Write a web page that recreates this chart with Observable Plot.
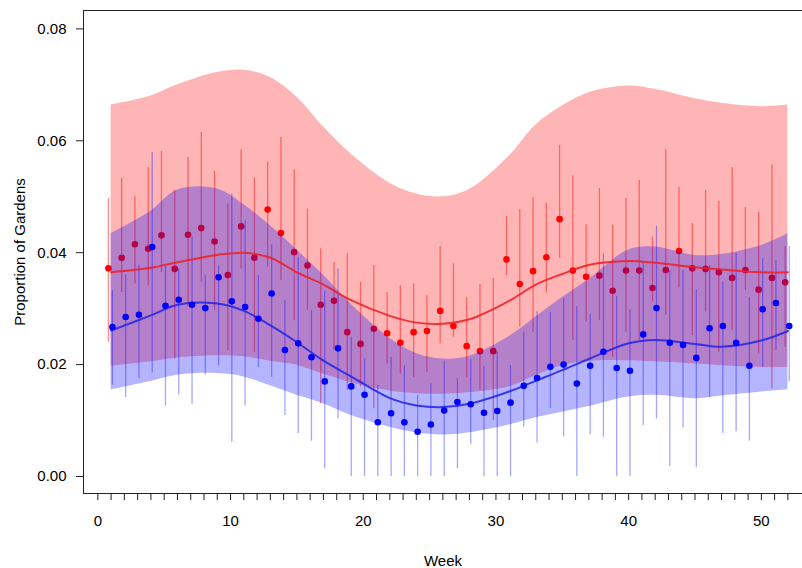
<!DOCTYPE html>
<html>
<head>
<meta charset="utf-8">
<script src="https://cdn.jsdelivr.net/npm/d3@7"></script>
<script src="https://cdn.jsdelivr.net/npm/@observablehq/plot@0.6"></script>
<style>
  html, body { margin: 0; padding: 0; background: white; }
  #chart { width: 802px; height: 568px; }
</style>
</head>
<body>
<div id="chart"></div>
<script>
// ---- Data ----
const weeks = d3.range(1, 53);

const redProp = [0.0372,0.0391,0.0415,0.0407,0.0431,0.0371,0.0432,0.0444,0.0420,0.0360,
  0.0447,0.0391,0.0477,0.0435,0.0401,0.0377,0.0307,0.0314,0.0258,0.0237,
  0.0264,0.0256,0.0239,0.0258,0.0260,0.0296,0.0269,0.0233,0.0224,0.0224,
  0.0388,0.0344,0.0367,0.0392,0.0460,0.0368,0.0357,0.0359,0.0332,0.0368,
  0.0368,0.0337,0.0369,0.0403,0.0372,0.0371,0.0365,0.0355,0.0369,0.0334,
  0.0355,0.0347];
const redHi = [0.0497,0.0533,0.0500,0.0552,0.0581,0.0511,0.0570,0.0615,0.0546,0.0487,
  0.0584,0.0534,0.0562,0.0606,0.0548,0.0478,0.0407,0.0383,0.0398,0.0347,
  0.0377,0.0329,0.0341,0.0344,0.0324,0.0411,0.0380,0.0320,0.0343,0.0354,
  0.0465,0.0477,0.0498,0.0489,0.0592,0.0537,0.0450,0.0515,0.0449,0.0497,
  0.0529,0.0428,0.0584,0.0517,0.0452,0.0511,0.0492,0.0552,0.0481,0.0472,
  0.0557,0.0411];
const redLo = [0.0240,0.0329,0.0344,0.0341,0.0365,0.0210,0.0303,0.0347,0.0297,0.0225,
  0.0371,0.0222,0.0374,0.0350,0.0279,0.0297,0.0130,0.0225,0.0154,0.0160,
  0.0121,0.0201,0.0183,0.0177,0.0186,0.0237,0.0249,0.0177,0.0154,0.0100,
  0.0359,0.0267,0.0258,0.0328,0.0390,0.0243,0.0276,0.0279,0.0213,0.0258,
  0.0243,0.0312,0.0288,0.0338,0.0252,0.0294,0.0222,0.0261,0.0332,0.0219,
  0.0157,0.0231];

const blueProp = [0.0267,0.0285,0.0289,0.0410,0.0305,0.0316,0.0307,0.0301,0.0356,0.0313,
  0.0303,0.0282,0.0327,0.0226,0.0238,0.0213,0.0170,0.0229,0.0161,0.0146,
  0.0097,0.0113,0.0097,0.0080,0.0093,0.0118,0.0133,0.0129,0.0114,0.0117,
  0.0132,0.0162,0.0176,0.0196,0.0200,0.0166,0.0198,0.0223,0.0194,0.0189,
  0.0254,0.0301,0.0239,0.0235,0.0212,0.0265,0.0269,0.0239,0.0198,0.0299,
  0.0310,0.0269];
const blueHi = [0.0332,0.0360,0.0377,0.0579,0.0380,0.0371,0.0428,0.0360,0.0376,0.0505,
  0.0457,0.0359,0.0414,0.0315,0.0392,0.0297,0.0331,0.0371,0.0249,0.0210,
  0.0163,0.0213,0.0198,0.0145,0.0166,0.0206,0.0175,0.0209,0.0197,0.0222,
  0.0198,0.0258,0.0295,0.0293,0.0318,0.0304,0.0290,0.0398,0.0322,0.0298,
  0.0383,0.0447,0.0368,0.0368,0.0334,0.0377,0.0347,0.0399,0.0320,0.0389,
  0.0386,0.0411];
const blueLo = [0.0163,0.0141,0.0175,0.0185,0.0126,0.0146,0.0129,0.0182,0.0198,0.0061,
  0.0126,0.0195,0.0177,0.0109,0.0077,0.0063,0.0014,0.0103,0.0000,0.0000,
  0.0000,0.0000,0.0000,0.0000,0.0000,0.0000,0.0014,0.0057,0.0000,0.0000,
  0.0000,0.0088,0.0060,0.0121,0.0071,0.0000,0.0075,0.0070,0.0000,0.0000,
  0.0091,0.0103,0.0018,0.0087,0.0016,0.0141,0.0077,0.0080,0.0063,0.0195,
  0.0225,0.0169];

// Smoothed fits and their bands (read at these weeks)
const fitWeeks = [1,4,6,9,11,13,15,17,19,22,24,26,28,31,33,35,37,40,42,45,47,50,52];
const redFit   = [0.0365,0.0373,0.0383,0.0396,0.0400,0.0391,0.0365,0.0343,0.0316,0.0287,0.0275,0.0273,0.0281,0.0314,0.0343,0.0362,0.0378,0.0385,0.0382,0.0374,0.0370,0.0365,0.0365];
const redBandHi= [0.0664,0.0680,0.0700,0.0722,0.0726,0.0713,0.0678,0.0625,0.0578,0.0524,0.0505,0.0500,0.0513,0.0573,0.0628,0.0662,0.0686,0.0698,0.0692,0.0675,0.0667,0.0661,0.0664];
const redBandLo= [0.0197,0.0205,0.0212,0.0216,0.0214,0.0206,0.0199,0.0183,0.0168,0.0153,0.0148,0.0147,0.0150,0.0160,0.0180,0.0198,0.0206,0.0207,0.0205,0.0201,0.0198,0.0195,0.0195];
const blueFit  = [0.0261,0.0288,0.0307,0.0309,0.0296,0.0270,0.0240,0.0207,0.0180,0.0140,0.0127,0.0124,0.0130,0.0152,0.0171,0.0190,0.0210,0.0238,0.0244,0.0237,0.0232,0.0243,0.0260];
const blueBandHi=[0.0434,0.0474,0.0512,0.0514,0.0486,0.0448,0.0405,0.0360,0.0310,0.0247,0.0220,0.0210,0.0215,0.0250,0.0285,0.0320,0.0352,0.0405,0.0410,0.0395,0.0397,0.0413,0.0434];
const blueBandLo=[0.0155,0.0170,0.0181,0.0184,0.0178,0.0162,0.0145,0.0130,0.0110,0.0088,0.0078,0.0074,0.0078,0.0092,0.0105,0.0115,0.0125,0.0142,0.0145,0.0139,0.0144,0.0151,0.0155];

const yTicks = [0, 0.02, 0.04, 0.06, 0.08];
const xTicks = d3.range(0, 53);
const xLabelEvery = 10;

// ---- Build tables ----
const redRows = weeks.map((w, i) => ({week: w, p: redProp[i], lo: redLo[i], hi: redHi[i]}));
const blueRows = weeks.map((w, i) => ({week: w, p: blueProp[i], lo: blueLo[i], hi: blueHi[i]}));
const fitRows = fitWeeks.map((w, i) => ({
  week: w, redFit: redFit[i], redHi: redBandHi[i], redLo: redBandLo[i],
  blueFit: blueFit[i], blueHi: blueBandHi[i], blueLo: blueBandLo[i]
}));

const font = "'Liberation Sans', Arial, Helvetica, sans-serif";
const curve = "catmull-rom";

const chart = Plot.plot({
  width: 802,
  height: 568,
  marginLeft: 83,
  marginRight: 0,
  marginTop: 10,
  marginBottom: 75,
  style: {fontFamily: font, fontSize: "15px", background: "white", color: "black"},
  x: {domain: [-1.08, 53.1]},
  y: {domain: [-0.00304, 0.08329]},
  marks: [
    Plot.areaY(fitRows, {x: "week", y1: "redLo", y2: "redHi", fill: "#ff0000", fillOpacity: 0.29, curve}),
    Plot.ruleX(redRows, {x: "week", y1: "lo", y2: "hi", stroke: "#ff0000", strokeOpacity: 0.45, strokeWidth: 1.3, dx: -2.7}),
    Plot.dot(redRows, {x: "week", y: "p", r: 3.3, fill: "#ff0000", stroke: "none", dx: -2.7}),
    Plot.areaY(fitRows, {x: "week", y1: "blueLo", y2: "blueHi", fill: "#0000ff", fillOpacity: 0.29, curve}),
    Plot.ruleX(blueRows, {x: "week", y1: "lo", y2: "hi", stroke: "#0000ff", strokeOpacity: 0.35, strokeWidth: 1.3, dx: 1.3}),
    Plot.line(fitRows, {x: "week", y: "redFit", stroke: "#ee1c25", strokeOpacity: 0.85, strokeWidth: 2, curve}),
    Plot.line(fitRows, {x: "week", y: "blueFit", stroke: "#2222e6", strokeOpacity: 0.85, strokeWidth: 2, curve}),
    Plot.dot(blueRows, {x: "week", y: "p", r: 3.3, fill: "#0000ff", stroke: "none", dx: 1.3}),
    Plot.frame({stroke: "#222", strokeWidth: 1}),
    Plot.axisY({
      ticks: yTicks, tickFormat: d3.format(".2f"), tickSize: 7, tickPadding: 10,
      fontSize: 15, stroke: "#222",
      label: "Proportion of Gardens", labelAnchor: "center", labelArrow: "none", labelOffset: 69
    }),
    Plot.axisX({
      ticks: xTicks, tickFormat: d => d % xLabelEvery === 0 ? String(d) : "",
      tickSize: 7, tickPadding: 15, fontSize: 15, stroke: "#222",
      label: "Week", labelAnchor: "center", labelArrow: "none", labelOffset: 72
    })
  ]
});
document.getElementById("chart").appendChild(chart);
</script>
</body>
</html>
